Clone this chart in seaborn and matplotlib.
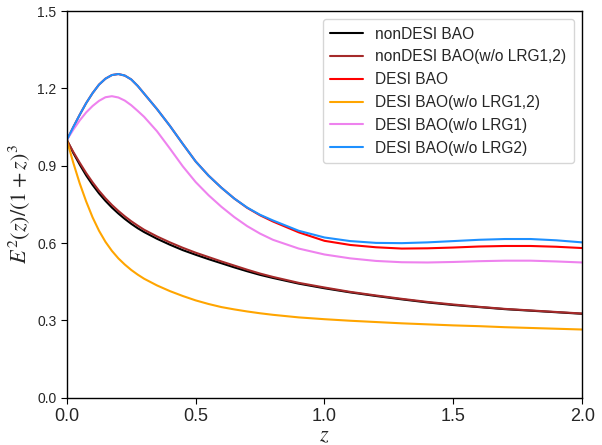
import numpy as np
import pandas as pd
import matplotlib
matplotlib.use("Agg")
import matplotlib.pyplot as plt
import seaborn as sns

z = [0.0, 0.025, 0.05, 0.075, 0.1, 0.125, 0.15, 0.175, 0.2, 0.225, 0.25, 0.275, 0.3,
     0.35, 0.4, 0.45, 0.5, 0.55, 0.6, 0.65, 0.7, 0.75, 0.8,
     0.9, 1.0, 1.1, 1.2, 1.3, 1.4, 1.5, 1.6, 1.7, 1.8, 1.9, 2.0]

nondesi = [1.0, 0.95, 0.905, 0.863, 0.826, 0.793, 0.764, 0.738, 0.715, 0.694, 0.675, 0.658, 0.643,
           0.617, 0.594, 0.573, 0.555, 0.538, 0.522, 0.506, 0.491, 0.477, 0.465,
           0.443, 0.425, 0.409, 0.395, 0.382, 0.37, 0.36, 0.352, 0.344, 0.338, 0.332, 0.326]
nondesi_wo12 = [1.0, 0.954, 0.912, 0.872, 0.836, 0.803, 0.774, 0.748, 0.725, 0.704, 0.685, 0.668, 0.652,
                0.626, 0.603, 0.582, 0.563, 0.546, 0.529, 0.513, 0.497, 0.482, 0.469,
                0.446, 0.428, 0.411, 0.397, 0.384, 0.372, 0.362, 0.353, 0.345, 0.339, 0.333, 0.327]
desi = [1.0, 1.05, 1.098, 1.143, 1.182, 1.215, 1.238, 1.252, 1.256, 1.25, 1.235, 1.21, 1.18,
        1.12, 1.055, 0.985, 0.917, 0.862, 0.815, 0.773, 0.737, 0.708, 0.684,
        0.642, 0.609, 0.593, 0.584, 0.579, 0.58, 0.583, 0.587, 0.589, 0.589, 0.586, 0.581]
desi_wo12 = [1.0, 0.912, 0.832, 0.762, 0.7, 0.648, 0.605, 0.57, 0.541, 0.517, 0.496, 0.478, 0.462,
             0.436, 0.414, 0.395, 0.378, 0.364, 0.352, 0.343, 0.335, 0.328, 0.322,
             0.312, 0.305, 0.299, 0.294, 0.289, 0.285, 0.281, 0.278, 0.274, 0.271, 0.268, 0.265]
desi_wo1 = [1.0, 1.04, 1.076, 1.107, 1.132, 1.152, 1.166, 1.170, 1.165, 1.153, 1.135, 1.113, 1.09,
            1.034, 0.967, 0.898, 0.837, 0.786, 0.741, 0.701, 0.666, 0.637, 0.613,
            0.579, 0.556, 0.541, 0.531, 0.526, 0.525, 0.527, 0.53, 0.532, 0.532, 0.529, 0.525]
desi_wo2 = [1.0, 1.05, 1.098, 1.143, 1.182, 1.215, 1.238, 1.252, 1.256, 1.25, 1.235, 1.21, 1.18,
            1.12, 1.055, 0.985, 0.917, 0.862, 0.815, 0.773, 0.738, 0.71, 0.688,
            0.648, 0.622, 0.608, 0.601, 0.600, 0.603, 0.608, 0.613, 0.616, 0.616, 0.611, 0.603]

labels = ["nonDESI BAO", "nonDESI BAO(w/o LRG1,2)", "DESI BAO",
          "DESI BAO(w/o LRG1,2)", "DESI BAO(w/o LRG1)", "DESI BAO(w/o LRG2)"]
series = [nondesi, nondesi_wo12, desi, desi_wo12, desi_wo1, desi_wo2]
colors = ["black", "brown", "red", "orange", "violet", "dodgerblue"]

xticks = [0.0, 0.5, 1.0, 1.5, 2.0]
yticks = [0.0, 0.3, 0.6, 0.9, 1.2, 1.5]

sns.set_style("ticks")
plt.rcParams['font.family'] = ['Liberation Sans', 'DejaVu Sans']
plt.rcParams['mathtext.fontset'] = 'stix'

fig = plt.figure(figsize=(6.02, 4.45), dpi=100)
ax = fig.add_axes([0.111, 0.106, 0.856, 0.869])

for lab, vals, c in zip(labels, series, colors):
    df = pd.DataFrame({"z": z, "v": vals})
    sns.lineplot(data=df, x="z", y="v", ax=ax, color=c, label=lab, linewidth=1.5)

ax.set_xlim(0, 2)
ax.set_ylim(0, 1.5)
ax.set_xticks(xticks)
ax.set_xticklabels([f"{t:.1f}" for t in xticks], fontsize=13)
ax.set_yticks(yticks)
ax.set_yticklabels([f"{t:.1f}" for t in yticks], fontsize=10)
ax.set_xlabel(r"$z$", fontsize=16, labelpad=0)
ax.set_ylabel(r"$E^2(z)/(1+z)^3$", fontsize=16)
for s in ax.spines.values():
    s.set_visible(True)
    s.set_color("black")
    s.set_linewidth(1.0)
ax.tick_params(direction="out", length=4, width=0.8, color="black")

leg = ax.legend(loc="upper right", fontsize=11.2, frameon=True, fancybox=True,
                edgecolor="#cccccc", handlelength=2.1, borderpad=0.5, labelspacing=0.5)

fig.savefig("out.png", dpi=100)
